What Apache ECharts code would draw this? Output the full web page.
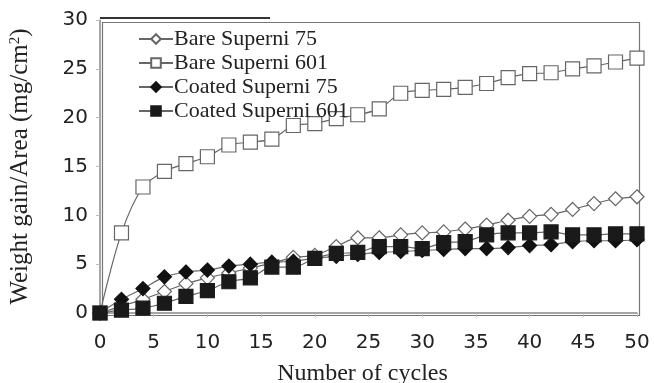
<!DOCTYPE html>
<html><head><meta charset="utf-8">
<script src="https://cdn.jsdelivr.net/npm/echarts@6/dist/echarts.min.js"></script>
<style>html,body{margin:0;padding:0;background:#fff}#c{width:654px;height:383px}</style>
</head><body><div id="c"></div>
<script>
const cycles = [0,2,4,6,8,10,12,14,16,18,20,22,24,26,28,30,32,34,36,38,40,42,44,46,48,50];
const bare75 = [0,0.7,1.4,2.2,3.0,3.6,4.1,4.6,5.1,5.7,5.9,6.8,7.7,7.7,8.0,8.2,8.3,8.6,9.0,9.5,9.9,10.1,10.6,11.2,11.7,11.9];
const bare601 = [0,8.2,12.9,14.5,15.3,16.0,17.2,17.5,17.8,19.2,19.4,19.9,20.3,20.9,22.5,22.8,22.9,23.1,23.5,24.1,24.5,24.6,25.0,25.3,25.7,26.1];
const coated75 = [0,1.4,2.5,3.7,4.2,4.4,4.8,5.0,5.2,5.3,5.6,5.8,6.0,6.2,6.3,6.4,6.5,6.6,6.6,6.7,6.9,7.0,7.3,7.4,7.4,7.5];
const coated601 = [0,0.3,0.5,1.0,1.7,2.3,3.2,3.6,4.7,4.7,5.6,6.1,6.2,6.8,6.8,6.6,7.2,7.3,8.0,8.2,8.2,8.3,8.0,8.0,8.1,8.1];
const seriesNames = ['Bare Superni 75','Bare Superni 601','Coated Superni 75','Coated Superni 601'];

const pair = arr => cycles.map((c,i)=>[c,arr[i]]);
const lineC = '#666';
function mk(name, arr, symbol, size, fill, stroke) {
  return {
    name, type:'line', data: pair(arr), smooth:0.3,
    symbol, symbolSize:size, showAllSymbol:true,
    lineStyle:{color:lineC,width:1.2},
    itemStyle:{color:fill,borderColor:stroke,borderWidth:1.2},
    emphasis:{disabled:true}
  };
}
const chart = echarts.init(document.getElementById('c'));
chart.setOption({
  animation:false,
  backgroundColor:'#fff',
  grid:{left:100,right:17,top:20,bottom:70,containLabel:false,outerBoundsMode:'none'},
  legend:{
    orient:'vertical', left:138, top:28, padding:0, itemGap:2, itemWidth:34, itemHeight:12,
    textStyle:{fontFamily:'Liberation Serif',fontSize:22,color:'#222',padding:[0,0,0,-4]},
    data:seriesNames
  },
  xAxis:{
    type:'value',min:0,max:50,interval:5,
    name:'Number of cycles',nameLocation:'middle',nameGap:49,
    nameTextStyle:{fontFamily:'Liberation Serif',fontSize:24,color:'#222',padding:[0,12,0,0]},
    axisLine:{show:true,lineStyle:{color:'#888',width:1.5}},
    axisTick:{show:true,inside:false,length:4,lineStyle:{color:'#bbb'}},
    axisLabel:{fontFamily:'DejaVu Sans',fontSize:20,color:'#222',margin:20},
    splitLine:{show:false}
  },
  yAxis:{
    type:'value',min:0,max:30,interval:5,
    name:'{t|Weight gain/Area (mg/cm}{s|2}{t|)}',nameLocation:'middle',nameGap:67,
    nameTextStyle:{fontFamily:'Liberation Serif',fontSize:25,color:'#222',
      rich:{t:{fontFamily:'Liberation Serif',fontSize:25,color:'#222'},
            s:{fontFamily:'Liberation Serif',fontSize:15,color:'#222',verticalAlign:'top',padding:[0,0,10,0]}}},
    axisLine:{show:true,lineStyle:{color:'#888',width:1.5}},
    axisTick:{show:true,inside:false,length:4,lineStyle:{color:'#bbb'}},
    axisLabel:{fontFamily:'DejaVu Sans',fontSize:20,color:'#222',margin:12},
    splitLine:{show:false}
  },
  graphic:[
    {type:'rect',left:100,top:20,shape:{width:537,height:293},style:{fill:'none',stroke:'#777',lineWidth:1.2},silent:true,z:-1},
    {type:'line',shape:{x1:100,y1:18,x2:270,y2:18},style:{stroke:'#333',lineWidth:2},silent:true}
  ],
  series:[
    mk(seriesNames[0],bare75,'diamond',14,'#fff','#666'),
    mk(seriesNames[1],bare601,'rect',14,'#fff','#666'),
    mk(seriesNames[2],coated75,'diamond',14,'#111','#111'),
    mk(seriesNames[3],coated601,'rect',14,'#1a1a1a','#1a1a1a')
  ]
});
</script></body></html>
